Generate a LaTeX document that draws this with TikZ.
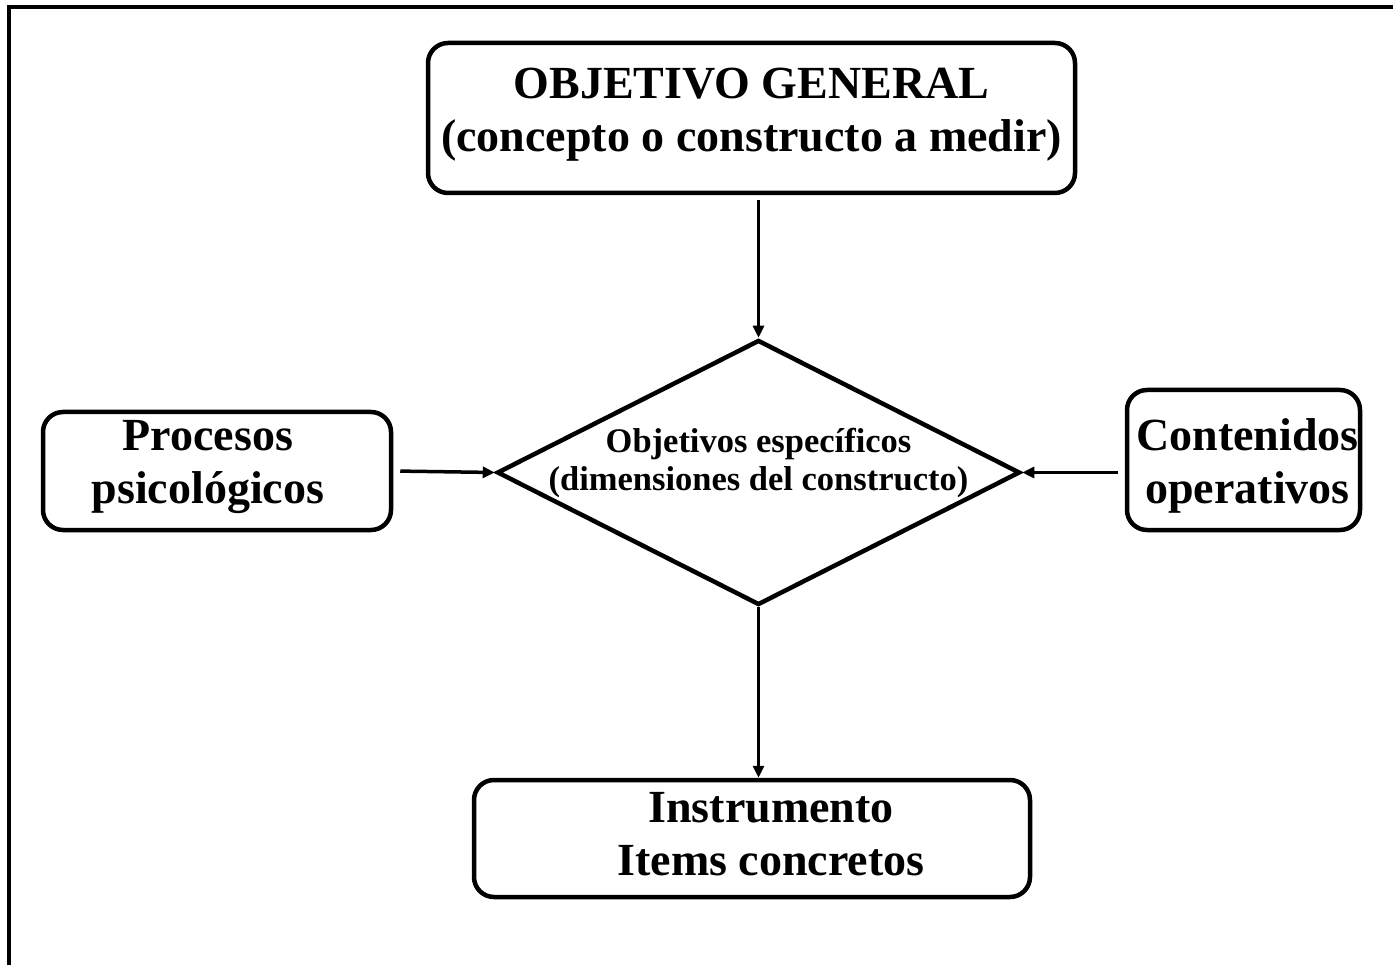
\documentclass[tikz,border=0pt]{standalone}
\usepackage{fontspec}
\setmainfont{Liberation Serif}
\usetikzlibrary{arrows.meta,shapes.geometric}
\begin{document}
\begin{tikzpicture}[x=1pt,y=-1pt,
  box/.style={draw, line width=4.5pt, rounded corners=20pt, inner sep=0pt},
  lab/.style={font=\bfseries\fontsize{46}{53}\selectfont, align=center, inner sep=0pt},
  dlab/.style={font=\bfseries\fontsize{34.5}{38}\selectfont, align=center, inner sep=0pt},
  arr/.style={line width=3.5pt, -{Triangle[length=12pt,width=11pt]}},
  frame/.style={line width=4pt}]
\useasboundingbox (0,0) rectangle (1393,965);
\coordinate (fa) at (9,965);
\coordinate (fb) at (9,7);
\coordinate (fc) at (1393,7);
\draw[frame] (fa) -- (fb) -- (fc);

\node[box, minimum width=647pt, minimum height=150pt,
  label={[lab, yshift=3pt]center:{OBJETIVO GENERAL\\(concepto o constructo a medir)}}]
  (og) at (751.5,118) {};
\node[box, minimum width=348pt, minimum height=118pt,
  label={[lab, xshift=-9pt, yshift=4pt]center:{Procesos\\psicológicos}}]
  (pp) at (217,471) {};
\node[box, minimum width=233pt, minimum height=140pt,
  label={[lab, xshift=4pt, yshift=-6pt]center:{Contenidos\\operativos}}]
  (co) at (1243.5,460) {};
\node[box, minimum width=556pt, minimum height=117pt,
  label={[lab, xshift=19pt, yshift=4.5pt]center:{Instrumento\\Items concretos}}]
  (ins) at (752,838.5) {};
\node[draw, diamond, line width=4.5pt, minimum width=523pt, minimum height=265pt, inner sep=0pt,
  label={[dlab, yshift=9.5pt]center:{Objetivos específicos\\(dimensiones del constructo)}}]
  (d) at (758.5,472.5) {};

\draw[arr, shorten <=5pt] (og.south -| d.north) -- (d.north);
\draw[arr, shorten <=7pt] (pp.east) -- (d.west);
\draw[arr, shorten <=7pt] (co.west |- d.east) -- (d.east);
\draw[arr] (d.south) -- (ins.north -| d.south);
\end{tikzpicture}
\end{document}
